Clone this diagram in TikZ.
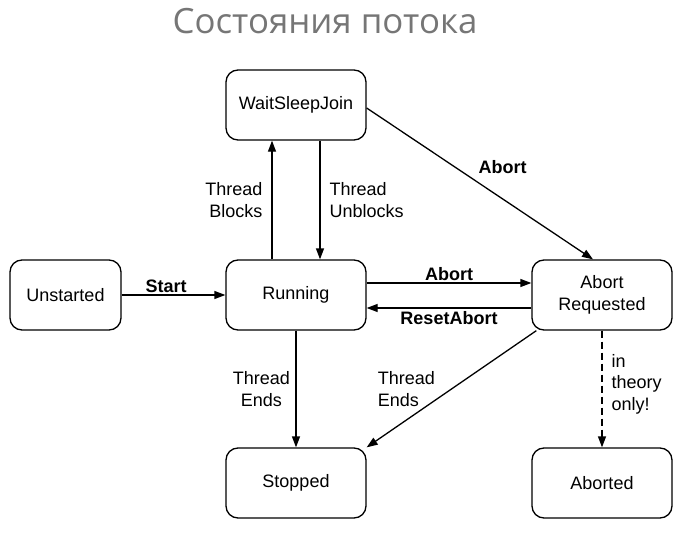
\documentclass[tikz,border=0pt]{standalone}
\usepackage{fontspec}
\setmainfont{Liberation Sans}
\newfontfamily\titlefont{Open Sans}
\usetikzlibrary{positioning,arrows.meta}
\definecolor{TitleGray}{RGB}{118,118,118}
\tikzset{
	state/.style={draw=black,line width=1.3pt,rounded corners=12pt,minimum width=140pt,
		minimum height=70pt,align=center,font=\fontsize{18}{22}\selectfont},
	trans/.style={draw=black,line width=1.3pt,-{Triangle[length=11pt,width=8pt]}},
	note/.style={font=\fontsize{18}{21.5}\selectfont,inner sep=2pt},
	boldnote/.style={note,font=\fontsize{18}{21.5}\selectfont\bfseries},
}

\begin{document}
\begin{tikzpicture}[x=1pt,y=-1pt]
			\useasboundingbox (0,0) rectangle (689,535);
			\node[font=\titlefont\fontsize{34.8}{40}\selectfont,text=TitleGray,anchor=base] (title) at (325,34) {Состояния потока};
			\node[state] (wsj) at (296,105) {WaitSleepJoin};
			\node[state,minimum width=111pt] (unst) at (65.5,295) {Unstarted};
			\node[state] (run) at (296,295) {Running};
			\node[state] (areq) at (602,295) {Abort\\Requested};
			\node[state] (stop) at (296,483) {Stopped};
			\node[state] (abtd) at (602,483) {Aborted};
			\draw[trans] (unst) -- (run) node[boldnote,above,pos=0.43] {Start};
			\draw[trans] ([xshift=-24pt]run.north) -- ([xshift=-24pt]wsj.south)
				node[note,left=7pt,align=right,midway] {Thread\\Blocks};
			\draw[trans] ([xshift=24pt]wsj.south) -- ([xshift=24pt]run.north)
				node[note,right=7pt,align=left,midway] {Thread\\Unblocks};
			\draw[trans] ([yshift=-3pt]wsj.east) -- ([xshift=-9pt]areq.north)
				node[boldnote,above right=4pt,pos=0.47] {Abort};
			\draw[trans] ([yshift=12pt]run.east) -- ([yshift=12pt]areq.west)
				node[boldnote,above,midway] {Abort};
			\draw[trans] ([yshift=-13pt]areq.west) -- ([yshift=-13pt]run.east)
				node[boldnote,below=1pt,midway] {ResetAbort};
			\draw[trans] (run) -- (stop) node[note,left=3.5pt,align=center,midway] {Thread\\Ends};
			\draw[trans] ([xshift=5pt]areq.south west) -- (stop.north east)
				node[note,left=14pt,align=left,midway] {Thread\\Ends};
			\draw[trans,dash pattern=on 7pt off 4pt] (areq) -- (abtd)
				node[note,right=7pt,align=left,pos=0.46] {in\\theory\\only!};
		\end{tikzpicture}
\end{document}
